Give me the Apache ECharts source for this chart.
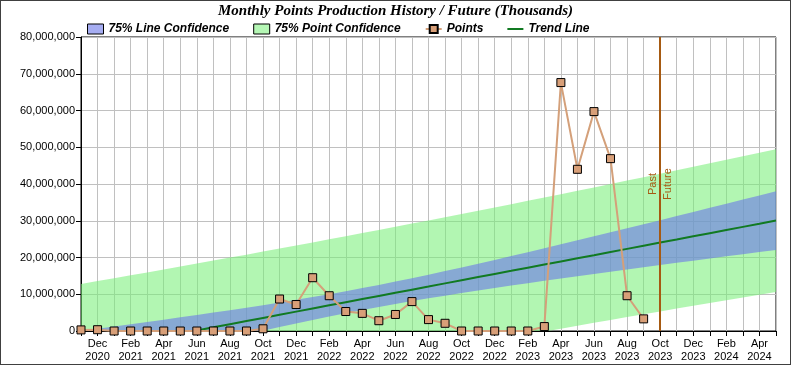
<!DOCTYPE html>
<html><head><meta charset="utf-8">
<script src="https://cdn.jsdelivr.net/npm/echarts@6/dist/echarts.min.js"></script>
<style>html,body{margin:0;padding:0;background:#fff}#c{width:789px;height:363px;border:1px solid #404040}</style>
</head><body><div id="c"></div><script>
// values in millions
const UNIT = 1e6;
const months = ['Nov 2020','Dec 2020','Jan 2021','Feb 2021','Mar 2021','Apr 2021','May 2021','Jun 2021','Jul 2021','Aug 2021','Sep 2021','Oct 2021','Nov 2021','Dec 2021',
 'Jan 2022','Feb 2022','Mar 2022','Apr 2022','May 2022','Jun 2022','Jul 2022','Aug 2022','Sep 2022','Oct 2022','Nov 2022','Dec 2022',
 'Jan 2023','Feb 2023','Mar 2023','Apr 2023','May 2023','Jun 2023','Jul 2023','Aug 2023','Sep 2023','Oct 2023','Nov 2023','Dec 2023',
 'Jan 2024','Feb 2024','Mar 2024','Apr 2024','May 2024'];
const points = [0.3,0.35,0,0,0,0,0,0,0,0,0,0.6,8.7,7.2,14.5,9.6,5.3,4.8,2.8,4.5,8.0,3.1,2.1,0,0,0,0,0,1.2,67.6,44.0,59.7,46.9,9.6,3.3];
const trend = [-5.83,-4.98,-4.12,-3.27,-2.41,-1.56,-0.71,0.15,1.00,1.86,2.71,3.56,4.42,5.27,6.13,6.98,7.83,8.69,9.54,10.40,11.25,12.10,12.96,13.81,14.67,15.52,16.37,17.23,18.08,18.94,19.79,20.64,21.50,22.35,23.21,24.06,24.91,25.77,26.62,27.48,28.33,29.18,30.04];
const lineLow = [-11.69,-10.59,-9.48,-8.38,-7.29,-6.21,-5.13,-4.06,-3.01,-1.96,-0.93,0.08,1.08,2.05,3.01,3.93,4.82,5.70,6.53,7.35,8.13,8.88,9.62,10.33,11.03,11.70,12.36,13.02,13.66,14.29,14.91,15.53,16.14,16.74,17.35,17.95,18.54,19.13,19.72,20.31,20.89,21.47,22.05];
const lineHigh = [0.03,0.63,1.24,1.84,2.47,3.09,3.71,4.36,5.01,5.68,6.35,7.04,7.76,8.49,9.25,10.03,10.84,11.68,12.55,13.45,14.37,15.32,16.30,17.29,18.31,19.34,20.38,21.44,22.50,23.59,24.67,25.75,26.86,27.96,29.07,30.17,31.28,32.41,33.52,34.65,35.77,36.89,38.03];
const pointLow = [-24.47,-23.55,-22.61,-21.69,-20.77,-19.86,-18.95,-18.04,-17.15,-16.25,-15.36,-14.48,-13.59,-12.72,-11.84,-10.98,-10.12,-9.26,-8.41,-7.56,-6.72,-5.89,-5.05,-4.23,-3.40,-2.59,-1.78,-0.96,-0.16,0.64,1.43,2.22,3.01,3.78,4.57,5.33,6.10,6.87,7.62,8.38,9.13,9.87,10.62];
const pointHigh = [12.81,13.59,14.37,15.15,15.95,16.74,17.53,18.34,19.15,19.97,20.78,21.60,22.43,23.26,24.10,24.94,25.78,26.64,27.49,28.36,29.22,30.09,30.97,31.85,32.74,33.63,34.52,35.42,36.32,37.24,38.15,39.06,39.99,40.92,41.85,42.79,43.72,44.67,45.62,46.58,47.53,48.49,49.46];
const splitMonth = 'Oct 2023';
const title = 'Monthly Points Production History / Future (Thousands)';

const sc = a => a.map(v => v == null ? null : Math.round(v * UNIT));
const diff = (h, l) => h.map((v, i) => Math.round((v - l[i]) * UNIT));

const chart = echarts.init(document.getElementById('c'));
const legendFont = {fontFamily: "'Liberation Sans',Arial,sans-serif", fontWeight: 'bold', fontStyle: 'italic', fontSize: 12, color: '#000'};
const lineIcon = 'path://M0,0h0.01v0.01h-0.01zM0,4h16v2h-16zM15.99,9.99h0.01v0.01h-0.01z';
chart.setOption({
  animation: false,
  title: {text: title, left: 'center', top: 3, padding: 0, textStyle: {fontFamily: "'Liberation Serif','Times New Roman',serif", fontWeight: 'bold', fontStyle: 'italic', fontSize: 15, color: '#000'}},
  legend: {
    left: 81, top: 17, itemWidth: 16, itemHeight: 10, itemGap: 24, selectedMode: false,
    textStyle: legendFont,
    data: [
      {name: '75% Line Confidence', icon: 'rect', itemStyle: {color: '#A6ADF2', borderColor: '#000', borderWidth: 1}},
      {name: '75% Point Confidence', icon: 'rect', itemStyle: {color: '#B5F7B5', borderColor: '#000', borderWidth: 1}},
      {name: 'Points'},
      {name: 'Trend Line', icon: lineIcon, itemStyle: {color: '#117A22'}}
    ]
  },
  grid: {left: 80, right: 14, top: 36, bottom: 33, show: true, borderColor: '#000', borderWidth: 1, backgroundColor: 'transparent'},
  xAxis: {
    type: 'category', data: months, boundaryGap: false,
    axisLine: {lineStyle: {color: '#000'}},
    axisTick: {show: true, interval: 0, length: 5, lineStyle: {color: '#000'}},
    axisLabel: {interval: (i) => i % 2 === 1, formatter: v => v.replace(' ', '\n'), fontFamily: "'Liberation Sans',Arial,sans-serif", fontSize: 11, lineHeight: 13, color: '#000', margin: 6},
    splitLine: {show: true, interval: 0, lineStyle: {color: '#C0C0C0', width: 1}}
  },
  yAxis: {
    type: 'value', min: 0, max: 80 * UNIT, interval: 10 * UNIT,
    axisLine: {show: true, lineStyle: {color: '#000'}},
    axisTick: {show: true, length: 5, lineStyle: {color: '#000'}},
    axisLabel: {fontFamily: "'Liberation Sans',Arial,sans-serif", fontSize: 11, color: '#000', margin: 6, formatter: v => v.toLocaleString('en-US')},
    splitLine: {show: true, lineStyle: {color: '#C0C0C0', width: 1}}
  },
  series: [
    {name: 'pcBase', type: 'line', stack: 'pc', stackStrategy: 'all', data: sc(pointLow), symbol: 'none', lineStyle: {width: 0, opacity: 0}, silent: true},
    {name: '75% Point Confidence', type: 'line', stack: 'pc', stackStrategy: 'all', data: diff(pointHigh, pointLow), symbol: 'none', lineStyle: {width: 0, opacity: 0}, itemStyle: {color: '#B5F7B5'}, areaStyle: {color: 'rgba(120,240,120,0.57)', opacity: 1}, silent: true},
    {name: 'lcBase', type: 'line', stack: 'lc', stackStrategy: 'all', data: sc(lineLow), symbol: 'none', lineStyle: {width: 0, opacity: 0}, silent: true},
    {name: '75% Line Confidence', type: 'line', stack: 'lc', stackStrategy: 'all', data: diff(lineHigh, lineLow), symbol: 'none', lineStyle: {width: 0, opacity: 0}, itemStyle: {color: '#A6ADF2'}, areaStyle: {color: 'rgba(106,119,233,0.6)', opacity: 1}, silent: true},
    {name: 'Trend Line', type: 'line', data: sc(trend), symbol: 'none', lineStyle: {color: '#117A22', width: 2}, itemStyle: {color: '#117A22'}},
    {name: 'Points', type: 'line', data: sc(points), symbol: 'rect', symbolSize: 8, showAllSymbol: true,
      lineStyle: {color: '#D4A07A', width: 2}, itemStyle: {color: '#D89F78', borderColor: '#000', borderWidth: 1},
      markLine: {silent: true, symbol: 'none', animation: false,
        lineStyle: {color: '#A65A12', width: 2, type: 'solid'},
        label: {color: '#A65A12', fontFamily: "'Liberation Sans',Arial,sans-serif", fontSize: 11, distance: 2},
        data: [
          {xAxis: splitMonth, label: {formatter: 'Past', position: 'insideMiddleTop', distance: 2}},
          {xAxis: splitMonth, label: {formatter: 'Future', position: 'insideMiddleBottom', distance: 2}}
        ]}
    }
  ]
});
</script></body></html>
